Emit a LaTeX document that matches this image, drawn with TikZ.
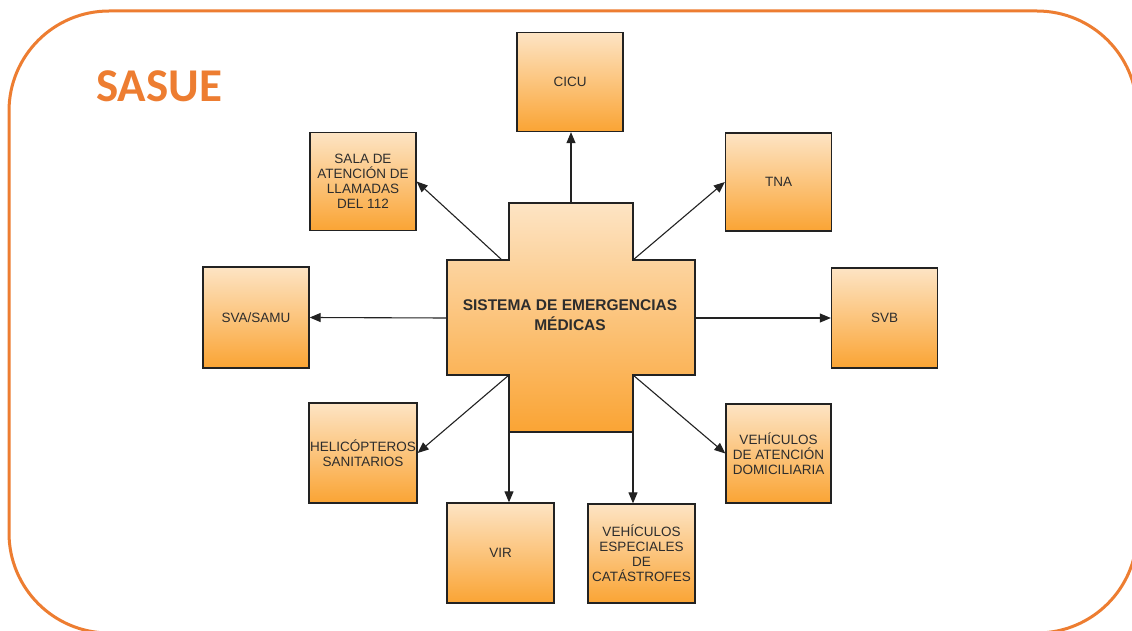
\documentclass[tikz,border=0pt]{standalone}
\usepackage{fontspec}
\setmainfont{Liberation Sans}
\newfontfamily\titlefont{Carlito}
\usetikzlibrary{arrows.meta}

\definecolor{frameorange}{RGB}{237,125,49}
\definecolor{boxtop}{RGB}{253,228,196}
\definecolor{boxbottom}{RGB}{250,164,52}
\definecolor{boxline}{RGB}{34,34,34}
\definecolor{boxtext}{RGB}{45,45,45}

\tikzset{
  unitbox/.style={draw=boxline, line width=1.3pt, rectangle,
    top color=boxtop, bottom color=boxbottom,
    minimum width=106pt, minimum height=99pt, inner sep=0pt,
    align=center, text=boxtext,
    font=\fontsize{13.5}{15}\selectfont},
  link/.style={draw=boxline, line width=1.1pt,
    -{Triangle[length=11pt,width=9pt]}},
}

\begin{document}
\begin{tikzpicture}[x=1pt,y=-1pt]
\useasboundingbox (0,0) rectangle (1132,631);
\fill[white] (0,0) rectangle (1132,631);

% outer frame
\draw[frameorange, line width=3pt, rounded corners=100pt] (9,11) rectangle (1137,633);
\node[anchor=base west, inner sep=0pt, text=frameorange,
      font=\titlefont\bfseries\fontsize{47}{50}\selectfont] (title) at (96,102) {SASUE};

% central cross
\coordinate (c-top-l) at (509,203);
\coordinate (c-top-r) at (633,203);
\coordinate (c-tl) at (509,260);
\coordinate (c-tr) at (633,260);
\coordinate (c-bl) at (509,375);
\coordinate (c-br) at (633,375);
\coordinate (c-bot-l) at (509,432);
\coordinate (c-bot-r) at (633,432);
\coordinate (c-left) at (447,318);
\coordinate (c-right) at (695,318);
\coordinate (c-topmid) at (571,203);

\path[draw=boxline, line width=1.3pt, top color=boxtop, bottom color=boxbottom]
  (509,203) -- (633,203) -- (633,260) -- (695,260) -- (695,375) -- (633,375)
  -- (633,432) -- (509,432) -- (509,375) -- (447,375) -- (447,260) -- (509,260) -- cycle;
\node[align=center, text=boxtext, font=\bfseries\fontsize{15.5}{20}\selectfont] (sem) at (570,315)
  {SISTEMA DE EMERGENCIAS\\MÉDICAS};

% surrounding units
\node[unitbox] (cicu) at (570,82) {CICU};
\node[unitbox, minimum height=98pt] (sala) at (363,181.5) {SALA DE\\ATENCIÓN DE\\LLAMADAS\\DEL 112};
\node[unitbox, minimum height=98pt] (tna) at (778.5,182) {TNA};
\node[unitbox, minimum height=101pt] (sva) at (256,317.5) {SVA/SAMU};
\node[unitbox, minimum height=100pt] (svb) at (884.5,318) {SVB};
\node[unitbox, minimum width=108pt, minimum height=100pt] (heli) at (363,453) {HELICÓPTEROS\\SANITARIOS};
\node[unitbox, minimum width=105pt] (vad) at (778.5,453.5) {VEHÍCULOS\\DE ATENCIÓN\\DOMICILIARIA};
\node[unitbox, minimum width=107pt, minimum height=100pt] (vir) at (500.5,553) {VIR};
\node[unitbox, minimum width=107pt] (vee) at (641.5,553.5) {VEHÍCULOS\\ESPECIALES\\DE\\CATÁSTROFES};

% connectors
\draw[link] (c-topmid) -- (c-topmid |- cicu.south);
\draw[link] ([xshift=-7pt]c-tl) -- (sala.east);
\draw[link] (c-tr) -- (tna.west);
\draw[link] (c-left) -- (sva.east);
\draw[link] (c-right) -- (svb.west);
\draw[link] (c-bl) -- (heli.east);
\draw[link] (c-br) -- (vad.west);
\draw[link] (c-bot-l) -- (c-bot-l |- vir.north);
\draw[link] (c-bot-r) -- (c-bot-r |- vee.north);
\end{tikzpicture}
\end{document}
